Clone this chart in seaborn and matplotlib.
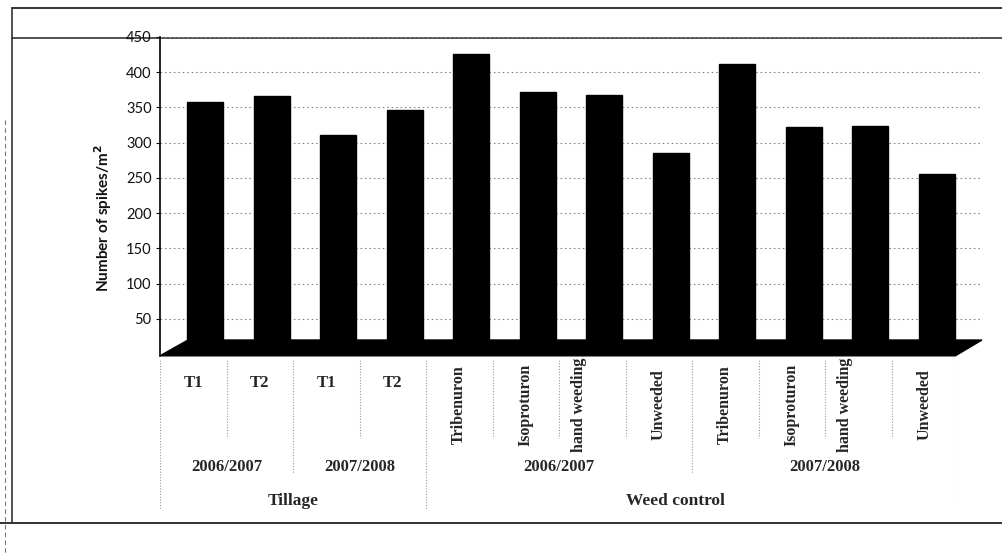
import numpy as np
import pandas as pd
import matplotlib
matplotlib.use("Agg")
import matplotlib.pyplot as plt
from matplotlib.patches import Polygon
import seaborn as sns

# ---------------- data ----------------
categories = ["T1", "T2", "T1", "T2",
              "Tribenuron", "Isoproturon", "hand weeding", "Unweeded",
              "Tribenuron", "Isoproturon", "hand weeding", "Unweeded"]
spikes = [358, 366, 311, 346, 426, 372, 368, 286, 411, 322, 324, 256]
years = ["2006/2007", "2007/2008", "2006/2007", "2007/2008"]
year_spans = [2, 2, 4, 4]
groups = ["Tillage", "Weed control"]
group_spans = [4, 8]
y_ticks = [50, 100, 150, 200, 250, 300, 350, 400, 450]
y_label = "Number of spikes/m$^{\\mathbf{2}}$"

slots = [f"{i:02d} {c}" for i, c in enumerate(categories)]
df = pd.DataFrame({"slot": slots, "spikes": spikes})

sns.set_theme(style="white")
plt.rcParams["font.family"] = ["Lato", "DejaVu Sans"]

W, H = 1002, 553
fig = plt.figure(figsize=(W / 100, H / 100), dpi=100)

def px_rect(x0, y0, x1, y1):
    return [x0 / W, 1 - y1 / H, (x1 - x0) / W, (y1 - y0) / H]

# ---------------- outer frame lines (behind everything) ----------------
ov = fig.add_axes([0, 0, 1, 1], zorder=-1)
ov.set_xlim(0, W)
ov.set_ylim(H, 0)
ov.axis("off")
ov.plot([12, W], [8, 8], color="#333333", linewidth=1.4)
ov.plot([12, W], [38, 38], color="#333333", linewidth=1.2)
ov.plot([12, 12], [8, 523], color="#333333", linewidth=1.2)
ov.plot([0, W], [523, 523], color="#333333", linewidth=1.4)
ov.plot([5, 5], [120, 553], color="#777777", linewidth=0.8,
        linestyle=(0, (4, 3)))

# ---------------- main bar axes ----------------
ax = fig.add_axes(px_rect(160, 37, 982, 356))
ax.patch.set_alpha(0)
sns.barplot(data=df, x="slot", y="spikes", order=slots, color="black",
            width=0.54, saturation=1, ax=ax, zorder=3)
for p in ax.patches:
    p.set_edgecolor("black")
ax.set_xlim(-0.677, 11.68)
ax.set_ylim(-2.8, 450)
ax.set_yticks(y_ticks)
ax.set_yticklabels([str(v) for v in y_ticks], fontsize=10.5)
ax.set_xticks([])
ax.set_xlabel("")
ax.set_ylabel(y_label, fontsize=11, fontweight="bold", color="#111111")
ax.yaxis.set_label_coords((114 - 160) / 822, (356 - 218) / 319)
ax.tick_params(axis="y", direction="out", length=3, width=0.8, pad=3,
               left=True, colors="#111111")
for s in ["top", "right", "bottom"]:
    ax.spines[s].set_visible(False)
ax.spines["left"].set_color("black")
ax.spines["left"].set_linewidth(1.2)
ax.yaxis.grid(True, linestyle=(0, (1.5, 2.5)), color="#8a8a8a", linewidth=0.8,
              zorder=0)
ax.set_axisbelow(True)

# floor of the chart (dark base plate)
floor = Polygon([(-0.677, -2.5), (-0.256, 19.9), (11.68, 19.9), (11.28, -2.5)],
                closed=True, facecolor="black", edgecolor="black", zorder=4,
                clip_on=False)
ax.add_patch(floor)

# ---------------- category table below ----------------
tab = fig.add_axes(px_rect(160, 356, 958, 512))
tab.patch.set_alpha(0)
tab.set_xlim(-0.5, 11.5)
tab.set_ylim(512, 356)
tab.axis("off")
sep_kw = dict(color="#9a9a9a", linestyle=(0, (1, 1.5)), linewidth=0.8)

serif = ["Liberation Serif", "DejaVu Serif"]
n = len(categories)
for i, c in enumerate(categories):
    if c in ("T1", "T2"):
        tab.text(i, 383, c, ha="center", va="center", fontsize=12,
                 fontweight="bold", family=serif)
    else:
        dx = -0.2 if c == "hand weeding" else 0.0
        tab.text(i + dx, 405, c, ha="center", va="center", rotation=90,
                 fontsize=11.5, fontweight="bold", family=serif)

# separators
year_edges = np.cumsum([0] + year_spans)
group_edges = np.cumsum([0] + group_spans)
for k in range(n + 1):
    x = k - 0.5
    if k in group_edges:
        tab.plot([x, x], [360, 510], **sep_kw)
    elif k in year_edges:
        tab.plot([x, x], [360, 473], **sep_kw)
    else:
        tab.plot([x, x], [360, 438], **sep_kw)

for y_txt, a, b in zip(years, year_edges[:-1], year_edges[1:]):
    tab.text((a + b - 1) / 2, 467, y_txt, ha="center", va="center",
             fontsize=12, fontweight="bold", family=serif)
for g_txt, a, b in zip(groups, group_edges[:-1], group_edges[1:]):
    tab.text((a + b - 1) / 2 - (0.25 if g_txt == "Weed control" else 0), 501,
             g_txt, ha="center", va="center", fontsize=12.5,
             fontweight="bold", family=serif)

fig.savefig("out.png", dpi=100, facecolor="white")
